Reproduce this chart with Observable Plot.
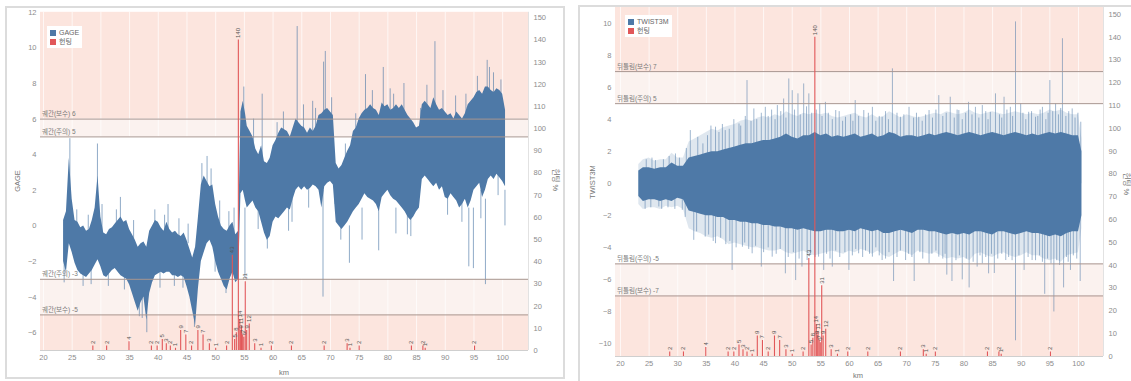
<!DOCTYPE html>
<html><head><meta charset="utf-8">
<script src="https://cdn.jsdelivr.net/npm/d3@7"></script>
<script src="https://cdn.jsdelivr.net/npm/@observablehq/plot@0.6"></script>
<style>
body{margin:0;background:#fff;}
#wrap{position:relative;width:1131px;height:381px;overflow:hidden;font-family:"Liberation Sans","Noto Sans CJK KR",sans-serif;}
.frame{position:absolute;border:2px solid #dcdcdc;box-sizing:border-box;}
.layer{position:absolute;}
.legend{position:absolute;background:#fff;font-size:7px;color:#666;padding:2px 3px;line-height:9px;font-family:"Liberation Sans","Noto Sans CJK KR",sans-serif;}
.sw{display:inline-block;width:6px;height:6px;margin-right:3px;vertical-align:-1px}
.title{position:absolute;font-size:7.5px;color:#777;white-space:nowrap;font-family:"Liberation Sans","Noto Sans CJK KR",sans-serif;}
</style></head><body><div id="wrap"></div>
<script>
// ---------- data ----------
const xTicks = [20,25,30,35,40,45,50,55,60,65,70,75,80,85,90,95,100];
const gageTicks = [-6,-4,-2,0,2,4,6,8,10,12];
const twistTicks = [-10,-8,-6,-4,-2,0,2,4,6,8,10];
const huntTicks = [0,10,20,30,40,50,60,70,80,90,100,110,120,130,140,150];

const gageLimits = [6,5,-3,-5];
const gageLimitLabels = ["궤간(보수) 6","궤간(주의) 5","궤간(주의) -3","궤간(보수) -5"];
const twistLimits = [7,5,-5,-7];
const twistLimitLabels = ["뒤틀림(보수) 7","뒤틀림(주의) 5","뒤틀림(주의) -5","뒤틀림(보수) -7"];

// GAGE dense band (upper / lower edge)
const gageKm = [23.5,24,24.5,25,25.5,26,26.5,27,27.5,28,28.5,29,29.5,30,30.5,31,31.5,32,32.5,33,33.5,34,34.5,35,35.5,36,36.5,37,37.5,38,38.5,39,39.5,40,40.5,41,41.5,42,42.5,43,43.5,44,44.5,45,45.5,46,46.5,47,47.5,48,48.5,49,49.5,50,50.5,51,51.5,52,52.5,53,53.5,54,54.4,54.8,55.2,55.5,56,56.5,57,57.5,58,58.5,59,59.5,60,60.5,61,61.5,62,62.5,63,63.5,64,64.5,65,65.5,66,66.5,67,67.5,68,68.5,69,69.5,70,70.5,71,71.5,72,72.5,73,73.5,74,74.5,75,75.5,76,76.5,77,77.5,78,78.5,79,79.5,80,80.5,81,81.5,82,82.5,83,83.5,84,84.5,85,85.5,86,86.5,87,87.5,88,88.5,89,89.5,90,90.5,91,91.5,92,92.5,93,93.5,94,94.5,95,95.5,96,96.5,97,97.5,98,98.5,99,99.5,100,100.5];
const gageHi = [0.3,0.8,3.8,1.5,0.3,0.2,-0.1,0.0,-0.3,-0.2,0.3,1.0,2.8,0.5,-0.4,-0.5,-0.2,-0.1,0.1,0.3,0.5,0.2,0.3,-0.2,-0.5,-0.8,-1.2,-1.0,-0.9,-1.2,-0.3,0.0,0.3,0.2,-0.1,-0.3,0.2,-0.2,-0.4,-0.3,-0.5,-0.6,-0.4,-0.8,-1.3,-1.8,-1.2,0.5,2.3,2.8,2.5,2.2,2.3,1.2,0.5,0.0,-0.2,-0.3,0.0,0.2,-0.5,-0.3,6.4,7.0,6.3,5.6,5.3,5.0,4.3,4.0,4.5,3.6,3.5,3.8,4.5,4.8,5.2,5.5,5.4,5.3,5.0,5.5,6.0,5.8,5.6,5.5,5.2,5.5,5.3,5.6,6.2,6.3,6.5,6.6,6.4,6.2,3.5,3.2,3.4,3.8,4.2,4.5,5.3,5.5,6.0,6.3,6.5,6.6,6.8,6.6,6.5,6.2,6.9,6.7,6.8,6.5,6.6,6.8,6.6,6.8,6.5,6.2,6.0,5.8,5.5,5.6,6.8,7.0,6.8,6.6,7.2,6.8,6.5,6.6,6.4,6.2,6.3,6.0,6.4,6.2,6.0,6.3,6.8,7.0,7.2,7.5,7.6,7.4,7.8,7.8,7.6,7.5,7.7,7.6,7.4,6.5];
const gageLo = [-2.0,-2.6,-1.0,-1.5,-2.1,-2.5,-2.7,-2.8,-2.9,-2.7,-2.5,-2.2,-1.9,-2.3,-2.8,-2.9,-2.7,-2.5,-2.4,-2.6,-2.8,-2.9,-3.0,-3.3,-3.8,-4.3,-4.8,-4.3,-4.0,-5.3,-3.8,-3.2,-2.8,-2.7,-2.6,-2.7,-2.6,-2.6,-2.8,-2.8,-2.9,-2.8,-2.9,-3.4,-4.0,-4.8,-5.6,-3.5,-2.0,-1.5,-1.0,-0.8,-1.2,-2.0,-2.6,-3.0,-3.4,-3.6,-3.0,-2.6,-3.2,-3.0,1.8,2.0,1.4,1.0,1.2,1.4,1.0,0.8,0.2,-0.4,-0.8,-0.6,0.2,0.5,0.4,0.6,0.8,1.0,0.9,1.5,2.0,2.2,2.0,2.2,2.0,2.1,2.3,2.2,2.0,1.0,2.2,2.4,2.5,2.3,0.2,0.0,-0.2,0.0,0.2,0.5,0.8,1.0,1.2,1.5,1.8,1.6,1.5,1.4,1.2,0.8,1.6,1.8,2.0,1.7,1.5,1.4,1.2,1.0,0.8,0.5,0.3,0.5,0.8,1.0,2.6,2.8,2.6,2.4,2.2,2.4,2.0,2.2,1.6,1.5,1.8,1.6,1.4,1.0,1.2,1.5,1.0,1.4,2.0,2.2,2.4,1.6,2.0,2.6,2.8,2.6,2.9,2.7,2.5,2.2];
// GAGE isolated spikes: km, from, to
const gSpikeKm   = [23.6,24.6,29.4,36.7,38.0,41.7,46.3,48.5,51.8,54.9,55.1,58.1,64.2,66.9,68.7,68.8,69.1,71.8,73.3,75.5,76.1,78.4,79.2,81.4,82.8,84.0,88.2,94.1,94.9,97.0,97.3,97.7,100.4,
                    25.8,26.9,27.8,28.3,30.2,31.3,32.7,33.4,34.1,35.7,37.2,39.4,40.3,41.1,42.8,43.6,44.3,45.2,47.6,49.2,49.9,50.7,52.3,53.2,56.6,57.4,59.0,60.7,61.8,62.7,63.3,65.3,66.2,67.4,70.2,70.8,72.6,74.4,77.3,80.4,81.0,83.4,85.7,86.8,89.6,90.4,91.8,92.9,93.6,95.6,96.2,98.4,99.2,99.7];
const gSpikeFrom = [-1,2,1,-3,-3,-1,-3,1,-2,5,1,3,5,5,2,5,5,1,0,1,5,1,6,1,6,0.5,6,1,1,1.5,6,6,2,
                    -1,-2,-1,-2,-1,-2,-1,-1,-2,-1,-2,-1,-2,-1,-2,-1,-2,-1,0,0,-1,0,-1,-1,3,2,2,3,3,2,2,3,3,3,3,3,2,3,5,5,5,3,3,5,4,3,4,3,4,5,2,5,4,5];
const gSpikeTo   = [-3.2,4.9,4.6,-5.1,-6.0,1.2,-5.7,3.9,-3.8,7.8,-2.9,7.4,11.2,7.0,-4.0,9.2,9.8,-0.8,-2.1,-0.8,8.5,-1.4,8.9,-0.45,8.0,-0.6,10.35,-2.3,-2.4,-3.3,9.3,8.9,0.0,
                    0.9,-3.4,0.6,-3.3,1.2,-3.4,0.9,1.6,-3.6,0.3,-5.2,0.9,-3.5,0.6,-3.4,0.4,-3.5,0.1,3.5,3.2,-2.6,1.4,0.8,1.0,6.0,-0.2,-1.3,5.8,6.4,-0.3,0.2,6.8,1.0,6.6,7.2,1.2,4.6,6.3,7.6,7.7,7.4,-0.5,6.6,7.9,7.6,0.6,7.3,0.2,7.4,8.4,0.4,8.6,1.7,8.2];

// TWIST3M dense core and lighter fringe
const twKm  = [23.2,24,25,26,27,28,29,30,31,32,33,34,35,36,37,38,39,40,41,42,43,44,45,46,47,48,49,50,51,52,53,54,55,56,57,58,59,60,61,62,63,64,65,66,67,68,69,70,71,72,73,74,75,76,77,78,79,80,81,82,83,84,85,86,87,88,89,90,91,92,93,94,95,96,97,98,99,100,100.6];
const twHi  = [0.8,1.0,1.0,0.9,1.0,1.0,1.3,1.1,1.1,1.6,1.7,1.8,1.9,2.0,2.0,2.1,2.2,2.3,2.4,2.5,2.5,2.6,2.7,2.7,2.8,2.9,3.1,2.9,2.8,3.0,3.0,3.2,3.0,3.1,2.9,3.0,2.9,3.0,3.1,2.9,3.0,3.1,2.9,3.0,3.2,3.1,2.9,3.0,3.0,2.9,3.0,3.1,3.0,3.1,3.2,3.1,3.0,3.1,3.2,3.1,3.0,3.1,3.2,3.1,3.0,3.1,3.2,3.1,3.0,3.1,3.0,3.1,3.2,3.1,3.2,3.1,3.0,3.0,2.0];
const twLo  = [-0.8,-1.1,-1.0,-1.0,-1.1,-1.0,-1.1,-0.9,-1.0,-1.7,-1.8,-1.9,-2.0,-2.0,-2.1,-2.1,-2.3,-2.3,-2.4,-2.4,-2.5,-2.5,-2.6,-2.6,-2.7,-2.7,-2.8,-2.8,-2.9,-2.8,-2.9,-3.0,-3.0,-2.9,-2.9,-3.0,-3.0,-2.9,-3.0,-2.8,-2.9,-3.0,-2.9,-3.1,-3.1,-3.0,-2.9,-3.0,-3.1,-2.9,-2.9,-3.0,-3.0,-3.1,-3.2,-3.1,-3.2,-3.1,-3.2,-3.0,-3.0,-3.1,-3.2,-3.0,-3.0,-3.1,-3.2,-3.1,-3.0,-3.1,-3.1,-3.2,-3.3,-3.2,-3.3,-3.1,-3.0,-3.0,-2.0];
const twFHi = [1.2,1.5,1.6,1.4,1.5,1.5,1.9,1.6,1.6,2.6,2.8,3.0,3.2,3.4,3.3,3.5,3.6,3.7,3.9,4.0,3.9,4.1,4.2,4.1,4.3,4.2,4.5,4.3,4.2,4.4,4.3,4.4,4.3,4.4,4.2,4.1,4.2,4.3,4.4,4.2,4.1,4.3,4.1,4.2,4.5,4.3,4.1,4.3,4.2,4.1,4.2,4.3,4.4,4.3,4.5,4.4,4.3,4.4,4.6,4.4,4.3,4.4,4.5,4.4,4.3,4.4,4.5,4.4,4.3,4.4,4.3,4.4,4.6,4.5,4.6,4.4,4.3,4.3,2.8];
const twFLo = [-1.3,-1.6,-1.5,-1.5,-1.6,-1.4,-1.5,-1.4,-1.6,-2.8,-3.0,-3.1,-3.3,-3.4,-3.3,-3.5,-3.8,-3.7,-3.8,-3.9,-4.0,-4.0,-4.1,-4.2,-4.2,-4.1,-4.3,-4.4,-4.3,-4.2,-4.4,-4.5,-4.4,-4.3,-4.2,-4.3,-4.4,-4.2,-4.3,-4.1,-4.2,-4.4,-4.2,-4.5,-4.6,-4.4,-4.2,-4.3,-4.5,-4.2,-4.3,-4.4,-4.3,-4.5,-4.7,-4.6,-4.7,-4.6,-4.8,-4.4,-4.3,-4.5,-4.6,-4.4,-4.3,-4.5,-4.6,-4.5,-4.3,-4.5,-4.5,-4.7,-4.8,-4.7,-4.9,-4.5,-4.4,-4.3,-2.8];
// TWIST3M spikes (from 0 to value)
const tSpikeKm  = [26.1,29.6,32.2,34.4,36.6,38.3,40.7,42.1,43.3,45.3,47.4,48.5,49.4,50.0,51.0,52.0,52.9,54.8,55.8,57.6,59.3,61.0,62.5,64.0,65.7,67.5,68.9,70.4,72.1,73.9,75.6,77.6,79.1,80.8,82.0,83.2,84.6,85.5,87.0,88.1,89.0,89.9,91.3,92.5,93.7,95.0,96.0,97.2,98.9,100.4,
                   26.7,30.8,32.8,34.8,36.6,39.5,41.3,43.0,44.6,46.5,48.8,50.6,51.7,52.6,54.6,55.5,57.0,59.9,61.6,64.0,65.7,67.7,69.8,71.3,73.9,75.6,77.0,77.9,79.7,80.9,82.3,83.2,84.3,85.3,87.3,89.0,90.5,91.9,94.1,95.7,97.4,98.6,100.3,
                   24.5,25.5,27.5,28.5,30.3,31.5,33.5,35.2,35.8,37.2,37.8,39.0,39.8,41.0,41.8,42.8,43.8,44.6,45.8,46.4,47.0,48.0,48.9,50.4,51.4,52.5,53.4,54.2,55.2,56.3,57.0,58.2,58.8,60.2,60.6,61.6,63.3,64.6,65.2,66.3,66.8,68.3,69.5,71.2,71.7,72.7,73.3,74.5,75.1,76.3,76.9,78.3,78.8,79.7,80.3,81.4,82.6,83.8,84.2,86.2,86.6,87.5,88.5,90.3,90.8,91.8,92.9,93.3,94.3,94.7,95.5,96.5,96.9,97.8,98.3,99.4,99.9,
                   24.3,25.3,27.2,28.3,29.5,31.3,33.3,35.4,36.2,37.5,38.4,39.1,40.2,41.7,42.4,43.6,45.0,45.8,47.2,47.9,49.3,50.2,51.2,53.2,54.0,56.0,56.6,57.6,58.3,59.2,60.5,61.1,62.3,62.8,63.5,64.6,65.2,66.3,66.9,68.3,68.9,70.3,70.9,72.3,72.8,74.4,75.1,76.3,76.7,78.6,79.2,80.4,81.6,82.8,83.8,84.8,85.9,86.6,87.8,88.4,89.6,91.2,92.5,93.2,93.7,94.6,95.2,96.2,96.7,97.9,98.2,99.1,99.7];
const tSpikeVal = [1.45,1.86,3.32,2.49,3.53,3.32,3.73,6.44,4.67,4.77,4.88,5.29,6.54,5.81,5.61,6.23,5.61,4.98,5.08,4.57,4.15,5.19,4.57,4.77,4.15,7.17,4.15,4.77,4.15,4.57,5.5,5.4,4.57,5.08,4.77,4.88,4.46,5.61,5.4,4.77,10.1,4.98,4.46,4.15,4.77,6.44,4.98,9.05,4.67,3.84,
                   -1.45,-1.66,-3.53,-3.33,-3.74,-5.41,-3.96,-4.37,-5.2,-4.58,-5.62,-6.04,-5.2,-4.79,-4.58,-5.41,-5.2,-5.41,-4.37,-4.58,-4.79,-6.1,-4.79,-6.1,-5.0,-4.58,-5.7,-6.1,-6.0,-6.5,-5.2,-5.0,-5.62,-5.6,-4.79,-9.8,-5.41,-4.79,-6.9,-8.0,-6.5,-5.41,-6.1,
                   1.5,1.6,1.5,1.7,1.6,2.2,2.9,3.0,3.6,3.2,3.7,3.4,4.0,3.6,4.2,3.9,4.0,4.4,4.2,4.6,4.0,4.5,4.1,4.6,4.3,4.8,4.4,4.6,4.2,4.4,4.0,4.5,3.9,4.3,3.9,4.2,4.4,3.9,4.2,4.5,4.0,4.4,4.3,4.1,4.4,3.9,4.3,4.1,4.6,4.2,4.4,4.1,4.6,4.0,4.4,4.3,4.1,4.5,4.0,4.3,4.1,4.6,4.2,4.4,4.0,4.5,4.2,4.6,4.0,4.4,4.5,4.3,4.7,4.2,4.5,4.1,4.4,
                   -1.6,-1.5,-1.6,-1.5,-1.6,-2.1,-3.0,-3.2,-3.6,-3.4,-3.8,-3.6,-4.0,-3.7,-4.1,-3.9,-4.3,-4.0,-4.4,-4.1,-4.6,-4.3,-4.7,-4.4,-4.6,-4.4,-4.7,-4.2,-4.6,-4.3,-4.5,-4.1,-4.6,-4.2,-4.4,-4.0,-4.5,-4.7,-4.3,-4.6,-4.2,-4.4,-4.6,-4.3,-4.7,-4.4,-4.2,-4.7,-4.4,-4.8,-4.5,-4.7,-4.9,-4.5,-4.6,-4.4,-4.7,-4.4,-4.6,-4.8,-4.5,-4.6,-4.8,-4.5,-4.9,-4.7,-5.0,-4.8,-5.1,-4.6,-4.9,-4.5,-4.7];

// 헌팅 (%) bars
const huntKm  = [28.6,31.0,34.9,38.8,39.8,40.7,41.4,42.1,43.0,43.9,44.8,45.8,46.9,47.8,48.9,50.0,51.9,52.9,53.3,53.6,53.95,54.2,54.35,54.5,54.7,54.9,55.15,55.4,55.85,56.8,57.9,59.7,63.2,68.9,72.9,73.4,75.0,84.1,86.1,86.5,95.1];
const huntPct = [2,2,4,2,2,5,3,2,1,9,7,2,9,7,3,1,2,43,5,8,140,14,9,11,7,6,31,9,12,3,1,2,2,2,3,1,2,2,2,1,2];

// ---------- drawing ----------
const BLUE = "#4e79a7", RED = "#e15759", PINK = "#fce5de", PALE = "#fbf2ef";
const FONT = "'Liberation Sans','Noto Sans CJK KR',sans-serif";
const AXC = "#8c8c8c";

function mainPlot(c){
  const [y0, y1] = c.yDom;
  const bands = [
    {a: y1, b: c.lim[0], f: PINK}, {a: c.lim[0], b: c.lim[1], f: PALE},
    {a: c.lim[2], b: c.lim[3], f: PALE}, {a: c.lim[3], b: y0, f: PINK}
  ];
  return Plot.plot({
    width: c.w, height: c.h,
    marginLeft: c.mL, marginRight: c.mR, marginTop: c.mT, marginBottom: c.mB,
    x: {domain: c.xDom, axis: null},
    y: {domain: c.yDom, axis: null},
    style: {background: "transparent", fontFamily: FONT, overflow: "visible"},
    marks: [
      Plot.rect(bands, {x1: c.xDom[0], x2: c.xDom[1], y1: "a", y2: "b", fill: "f"}),
      Plot.gridX(xTicks, {stroke: "#fff", strokeOpacity: 0.7}),
      ...c.dataMarks,
      Plot.ruleY(c.lim, {stroke: "#a89690", strokeWidth: 1}),
      Plot.text(c.lim, {x: c.xDom[0], y: c.lim, text: c.limLab, textAnchor: "start", dx: 1.5, dy: -5, fontSize: 6.5, fill: "#7a7a7a"}),
      Plot.ruleY([y0], {stroke: "#cfcfcf"}),
      Plot.ruleX([c.xDom[1]], {stroke: "#e2e2e2"}),
      Plot.axisX(xTicks, {tickSize: 0, tickPadding: 4, fontSize: 7.5, color: AXC, label: null}),
      Plot.axisY(c.yTicks, {anchor: "left", tickSize: 0, tickPadding: 4, fontSize: 7.5, color: AXC, label: null})
    ]
  });
}

function huntPlot(c){
  return Plot.plot({
    width: c.w, height: c.h,
    marginLeft: c.mL, marginRight: c.mR, marginTop: c.mT, marginBottom: c.mB,
    x: {domain: c.xDom, axis: null},
    y: {domain: c.hDom, axis: null},
    style: {background: "transparent", fontFamily: FONT, overflow: "visible"},
    marks: [
      Plot.ruleX(huntKm, {x: huntKm, y1: 0, y2: huntPct, stroke: RED, strokeWidth: 1.1}),
      Plot.text(huntKm, {x: huntKm, y: huntPct, text: huntPct.map(String), rotate: -90, textAnchor: "start", dy: -2, fontSize: 6, fill: "#555"}),
      Plot.axisY(huntTicks, {anchor: "right", tickSize: 0, tickPadding: 5, fontSize: 7.5, color: AXC, label: null})
    ]
  });
}

const wrap = document.getElementById("wrap");
function place(el, left, top){ el.classList.add("layer"); el.style.left = left + "px"; el.style.top = top + "px"; wrap.appendChild(el); }
function div(cls, html, css){ const d = document.createElement("div"); d.className = cls; d.innerHTML = html; Object.assign(d.style, css); wrap.appendChild(d); return d; }

// frames
div("frame", "", {left: "5px", top: "6px", width: "560px", height: "373px"});
div("frame", "", {left: "578px", top: "5px", width: "600px", height: "400px"});

// left panel (GAGE)
const L = {w: 559, h: 373, mL: 35, mR: 36, mT: 5.8, mB: 29, xDom: [19.48, 104.5], yDom: [-7, 12], hDom: [0, 152.5],
  yTicks: gageTicks, lim: gageLimits, limLab: gageLimitLabels,
  dataMarks: [
    Plot.ruleX(gSpikeKm, {x: gSpikeKm, y1: gSpikeFrom, y2: gSpikeTo, stroke: BLUE, strokeWidth: 0.9, strokeOpacity: 0.7}),
    Plot.areaY(gageKm, {x: gageKm, y1: gageLo, y2: gageHi, fill: BLUE})
  ]};
place(mainPlot(L), 5, 6);
place(huntPlot(L), 5, 6);

// right panel (TWIST3M)
const R = {w: 560, h: 385, mL: 37, mR: 35, mT: 2, mB: 34, xDom: [19.13, 104.37], yDom: [-10.78, 11.0], hDom: [0, 153],
  yTicks: twistTicks, lim: twistLimits, limLab: twistLimitLabels,
  dataMarks: [
    Plot.areaY(twKm, {x: twKm, y1: twFLo, y2: twFHi, fill: BLUE, fillOpacity: 0.18}),
    Plot.ruleX(tSpikeKm, {x: tSpikeKm, y1: 0, y2: tSpikeVal, stroke: BLUE, strokeWidth: 0.9, strokeOpacity: 0.6}),
    Plot.areaY(twKm, {x: twKm, y1: twLo, y2: twHi, fill: BLUE})
  ]};
place(mainPlot(R), 578, 5);
place(huntPlot(R), 578, 5);

// legends
div("legend", `<div><span class="sw" style="background:${BLUE}"></span>GAGE</div><div><span class="sw" style="background:${RED}"></span>헌팅</div>`, {left: "47px", top: "26px"});
div("legend", `<div><span class="sw" style="background:${BLUE}"></span>TWIST3M</div><div><span class="sw" style="background:${RED}"></span>헌팅</div>`, {left: "625px", top: "15px"});

// axis titles
div("title", "GAGE", {left: "17px", top: "181px", transform: "translate(-50%,-50%) rotate(-90deg)"});
div("title", "헌팅 %", {left: "556px", top: "180px", transform: "translate(-50%,-50%) rotate(90deg)"});
div("title", "km", {left: "284px", top: "372px", transform: "translate(-50%,-50%)"});
div("title", "TWIST3M", {left: "592px", top: "182px", transform: "translate(-50%,-50%) rotate(-90deg)"});
div("title", "헌팅 %", {left: "1127px", top: "184px", transform: "translate(-50%,-50%) rotate(90deg)"});
div("title", "km", {left: "858px", top: "375px", transform: "translate(-50%,-50%)"});
</script>
</body></html>
